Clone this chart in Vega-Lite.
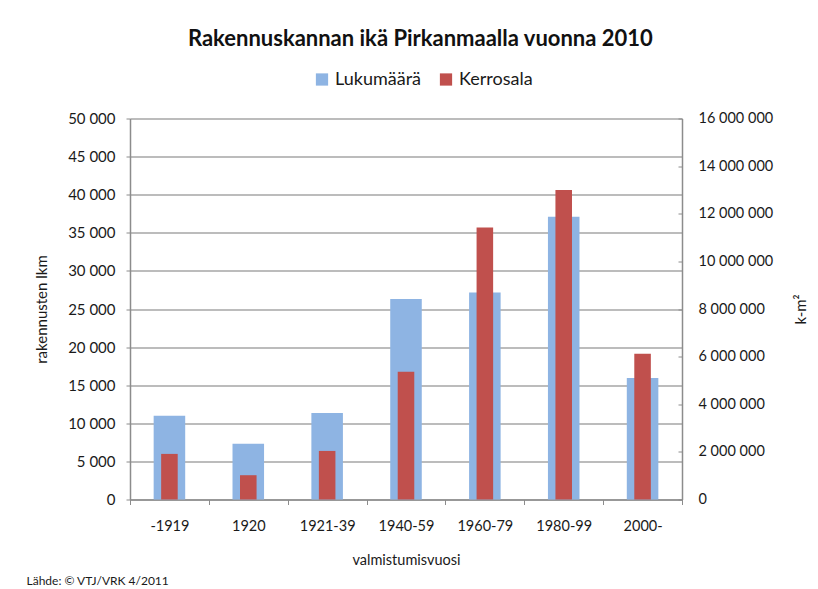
{
  "$schema": "https://vega.github.io/schema/vega-lite/v6.json",
  "width": 552,
  "height": 381,
  "autosize": "none",
  "padding": {"left": 130, "top": 118.5, "right": 136, "bottom": 89.5},
  "background": "white",
  "config": {
    "font": "Lato",
    "view": {"stroke": null},
    "axis": {"labelColor": "#1a1a1a", "titleColor": "#1a1a1a", "labelFont": "Lato", "titleFont": "Lato", "titleFontWeight": "normal"}
  },
  "title": {
    "text": "Rakennuskannan ikä Pirkanmaalla vuonna 2010",
    "font": "Lato",
    "fontSize": 22,
    "fontWeight": "bold",
    "color": "#111111",
    "anchor": "middle",
    "frame": "bounds",
    "offset": 20,
    "dx": 3
  },
  "data": {
    "values": [
      {"vuosi": "-1919", "lukumaara": 11000, "kerrosala": 1915000},
      {"vuosi": "1920", "lukumaara": 7300, "kerrosala": 1020000},
      {"vuosi": "1921-39", "lukumaara": 11350, "kerrosala": 2040000},
      {"vuosi": "1940-59", "lukumaara": 26300, "kerrosala": 5370000},
      {"vuosi": "1960-79", "lukumaara": 27150, "kerrosala": 11420000},
      {"vuosi": "1980-99", "lukumaara": 37100, "kerrosala": 13000000},
      {"vuosi": "2000-", "lukumaara": 15950, "kerrosala": 6120000}
    ]
  },
  "layer": [
    {
      "mark": {"type": "bar", "width": {"band": 0.4}},
      "encoding": {
        "x": {
          "field": "vuosi", "type": "nominal", "sort": null,
          "scale": {"paddingInner": 0, "paddingOuter": 0},
          "axis": {
            "orient": "bottom",
            "title": "valmistumisvuosi", "labelAngle": 0, "labelFontSize": 14.5, "titleFontSize": 14.5,
            "tickBand": "extent", "tickSize": 5, "tickColor": "#8c8c8c", "domainColor": "#8c8c8c", "domainWidth": 1.5,
            "labelPadding": 15, "titlePadding": 20
          }
        },
        "y": {
          "field": "lukumaara", "type": "quantitative",
          "scale": {"domain": [0, 50000], "nice": false},
          "axis": {
            "title": "rakennusten lkm", "values": [0, 5000, 10000, 15000, 20000, 25000, 30000, 35000, 40000, 45000, 50000],
            "labelExpr": "replace(format(datum.value, ',d'), ',', ' ')",
            "labelFontSize": 15, "titleFontSize": 15, "tickSize": 4, "labelPadding": 11, "titlePadding": 18,
            "grid": true, "gridColor": "#a6a6a6", "gridWidth": 1.3,
            "tickColor": "#8c8c8c", "domainColor": "#8c8c8c", "domainWidth": 1.5
          }
        },
        "color": {
          "datum": "Lukumäärä",
          "scale": {"domain": ["Lukumäärä", "Kerrosala"], "range": ["#8EB4E3", "#C0504D"]},
          "legend": {
            "title": null, "orient": "none", "legendX": 183, "legendY": -48, "direction": "horizontal", "columns": 2,
            "symbolType": "square", "symbolSize": 150, "symbolStrokeWidth": 0, "labelFontSize": 18, "labelFont": "Lato",
            "labelColor": "#1a1a1a", "columnPadding": 16, "labelOffset": 4
          }
        }
      }
    },
    {
      "mark": {"type": "bar", "width": {"band": 0.21}},
      "encoding": {
        "x": {"field": "vuosi", "type": "nominal", "sort": null, "axis": null},
        "y": {
          "field": "kerrosala", "type": "quantitative",
          "scale": {"domain": [0, 16000000], "nice": false},
          "axis": {
            "title": "k-m²", "orient": "right", "titleAngle": 270,
            "values": [0, 2000000, 4000000, 6000000, 8000000, 10000000, 12000000, 14000000, 16000000],
            "labelExpr": "replace(replace(format(datum.value, ',d'), ',', ' '), ',', ' ')",
            "labelFontSize": 14.5, "titleFontSize": 15, "tickSize": -4, "labelPadding": 20, "titlePadding": 36,
            "grid": false, "tickColor": "#8c8c8c", "domainColor": "#8c8c8c", "domainWidth": 1.5
          }
        },
        "color": {"datum": "Kerrosala"}
      }
    },
    {
      "mark": {"type": "bar", "opacity": 0},
      "encoding": {
        "x": {
          "field": "vuosi", "type": "nominal", "sort": null,
          "axis": {
            "orient": "bottom",
            "title": "Lähde: © VTJ/VRK 4/2011", "labels": false, "ticks": false, "domain": false, "grid": false,
            "titleFontSize": 12, "titleAnchor": "start", "titleAlign": "left", "titleX": -104, "titleY": 76, "titleBaseline": "top"
          }
        },
        "y": {"field": "lukumaara", "type": "quantitative", "scale": {"domain": [0, 50000], "nice": false}, "axis": null}
      }
    }
  ],
  "resolve": {"scale": {"y": "independent"}, "axis": {"x": "independent"}}
}
